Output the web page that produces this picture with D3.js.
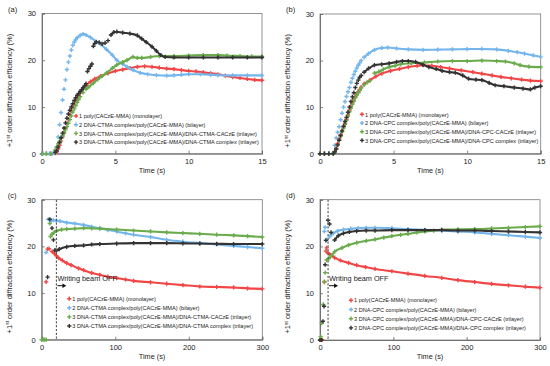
<!DOCTYPE html>
<html>
<head>
<meta charset="utf-8">
<script src="https://cdn.jsdelivr.net/npm/d3@7"></script>
<style>
  body { margin: 0; background: #fff; }
  svg { display: block; font-family: Arial, "Liberation Sans", sans-serif; }
</style>
</head>
<body>
<div class="chart"></div>
<script>
// [time (s), +1st order diffraction efficiency (%)]
var aRed = [[0,0],[0.3,0],[0.6,0],[0.9,0.1],[1.0,0.4],[1.1,1.0],[1.2,1.8],[1.3,2.7],[1.4,3.6],[1.5,4.5],[1.6,5.5],[1.7,6.5],[1.8,7.4],[1.9,8.3],[2.0,9.1],[2.1,9.9],[2.2,10.6],[2.3,11.3],[2.4,11.9],[2.5,12.5],[2.6,13.0],[2.7,13.5],[2.8,13.9],[3.0,14.6],[3.3,15.4],[3.6,16.0],[4.0,16.6],[4.5,17.2],[5,17.7],[5.5,18.0],[6,18.3],[6.5,18.6],[7,18.7],[7.5,18.6],[8,18.4],[8.5,18.2],[9,18.1],[9.5,17.9],[10,17.7],[10.5,17.6],[11,17.4],[11.5,17.2],[12,17.0],[12.5,16.7],[13,16.4],[13.5,16.2],[14,16.0],[14.5,15.8],[15,15.7]];
var aBlue = [[0,0],[0.1,0],[0.3,0],[0.5,0],[0.7,0],[0.9,0.3],[1.0,1.5],[1.1,3.6],[1.2,6.2],[1.3,8.8],[1.4,11.5],[1.5,13.8],[1.6,15.8],[1.7,18.0],[1.8,19.6],[1.9,20.9],[2.0,22.2],[2.1,23.2],[2.2,23.9],[2.3,24.4],[2.4,24.8],[2.6,25.3],[2.8,25.6],[3.0,25.4],[3.3,24.9],[3.7,24.0],[4.0,23.4],[4.4,22.3],[4.8,21.1],[5.1,20.0],[5.5,19.2],[5.8,18.6],[6.2,17.9],[6.7,17.3],[7.2,17.0],[7.8,16.8],[8.5,16.7],[9.0,16.75],[9.5,16.9],[10,17.0],[10.8,17.0],[11.5,16.9],[12,16.8],[13,16.75],[14,16.75],[15,16.75]];
var aGreen = [[0,0],[0.3,0],[0.6,0],[0.9,0.8],[1.0,1.4],[1.1,2.1],[1.2,2.7],[1.3,3.3],[1.4,3.9],[1.5,4.5],[1.6,5.1],[1.7,5.8],[1.8,6.5],[1.9,7.3],[2.0,8.1],[2.1,8.9],[2.2,9.6],[2.3,10.3],[2.4,11.0],[2.5,11.6],[2.6,12.2],[2.8,13.1],[3.0,13.8],[3.2,14.3],[3.5,15.1],[3.8,15.9],[4.1,16.6],[4.4,17.3],[4.8,18.3],[5.1,19.0],[5.5,19.6],[5.8,20.0],[6.2,20.7],[6.5,20.5],[6.8,20.5],[7.4,20.7],[8.0,20.9],[9,20.9],[10,21.0],[11,21.1],[12,21.1],[12.6,21.0],[13.5,20.9],[14.3,20.8],[15,20.8]];
var aBlack = [[0.9,0.3],[1.0,0.6],[1.1,1.4],[1.2,2.4],[1.3,3.4],[1.4,4.4],[1.5,5.5],[1.6,6.6],[1.7,7.6],[1.8,8.5],[1.9,9.3],[2.0,10.0],[2.1,10.7],[2.2,11.4],[2.3,12.0],[2.4,12.5],[2.5,12.9],[2.6,13.3],[2.7,13.7],[2.8,14.1],[2.9,14.5],[3.0,15.0],[3.1,17.6],[3.2,18.2],[3.3,18.7],[3.4,19.2],[3.5,23.0],[3.6,23.6],[3.7,23.9],[3.9,23.8],[4.1,23.5],[4.3,23.7],[4.5,24.2],[4.7,25.4],[4.9,26.0],[5.1,26.1],[5.5,25.9],[6.0,25.7],[6.5,25.3],[6.8,24.6],[7.1,23.9],[7.5,22.9],[7.8,22.0],[8.1,21.1],[8.4,20.7],[9,20.6],[10,20.6],[11,20.6],[12,20.6],[13,20.6],[14,20.6],[15,20.6]];

var bRed = [[0,0],[0.3,0],[0.6,0],[0.9,0],[1.0,0.5],[1.1,1.2],[1.2,2.2],[1.3,3.2],[1.4,4.1],[1.5,4.9],[1.6,5.7],[1.7,6.5],[1.8,7.4],[1.9,8.3],[2.0,9.4],[2.1,10.2],[2.2,10.9],[2.3,11.6],[2.4,12.3],[2.5,12.8],[2.6,13.3],[2.7,13.8],[2.8,14.3],[3.0,15.0],[3.4,15.8],[3.8,16.6],[4.2,17.2],[4.8,17.8],[5.4,18.2],[6.0,18.6],[6.6,18.9],[7.0,19.0],[7.6,18.9],[8.2,18.6],[8.8,18.3],[9.6,17.9],[10.4,17.5],[11,17.2],[11.7,16.8],[12.3,16.5],[13,16.2],[13.7,15.9],[14.3,15.7],[15,15.6]];
var bBlue = [[0,0],[0.3,0],[0.6,0],[0.9,0.2],[1.0,1.8],[1.1,3.4],[1.2,4.6],[1.3,5.8],[1.4,7.3],[1.5,8.7],[1.6,10.0],[1.7,11.2],[1.8,12.3],[1.9,13.3],[2.0,14.2],[2.1,15.3],[2.2,16.2],[2.3,17.0],[2.4,17.7],[2.5,18.4],[2.6,19.0],[2.7,19.5],[2.8,20.0],[3.0,20.7],[3.3,21.5],[3.7,22.3],[4.2,22.7],[4.6,22.8],[5.2,22.6],[6.0,22.4],[7.0,22.3],[8.0,22.35],[9.0,22.4],[10.0,22.45],[11,22.5],[12,22.4],[12.8,22.1],[13.4,21.8],[13.9,21.5],[14.5,21.1],[15,20.8]];
var bGreen = [[0,0],[0.3,0],[0.6,0],[0.9,0],[1.0,0.3],[1.1,1.0],[1.2,1.9],[1.3,2.9],[1.4,3.8],[1.5,4.7],[1.6,5.5],[1.7,6.3],[1.8,7.2],[1.9,8.1],[2.0,9.0],[2.1,9.8],[2.2,10.6],[2.3,11.3],[2.4,12.0],[2.5,12.6],[2.6,13.1],[2.7,13.6],[2.8,14.1],[3.0,14.8],[3.2,15.3],[3.4,15.7],[3.7,17.3],[4.0,17.6],[4.3,18.1],[4.7,18.6],[5.1,18.9],[5.5,19.2],[6.2,19.4],[7.1,19.6],[8.0,19.8],[9,19.9],[10,19.9],[11,20.0],[12,19.9],[12.6,19.8],[13.2,19.4],[13.6,19.0],[14.2,18.7],[15,18.6]];
var bBlack = [[0,0],[0.3,0],[0.6,0],[0.9,0],[1.0,0.4],[1.1,1.0],[1.2,1.9],[1.3,2.9],[1.4,3.9],[1.5,4.9],[1.6,5.9],[1.7,6.9],[1.8,7.8],[1.9,8.9],[2.0,10.0],[2.1,11.2],[2.2,12.2],[2.3,13.1],[2.4,14.2],[2.5,15.1],[2.6,15.8],[2.7,16.4],[2.8,16.8],[3.0,17.5],[3.3,18.3],[3.7,19.0],[4.2,19.2],[4.7,19.4],[5.2,19.7],[5.6,19.9],[6.0,19.9],[6.5,19.7],[7.0,19.1],[7.4,18.6],[7.9,18.2],[8.3,17.8],[8.8,17.5],[9.2,17.4],[9.7,16.8],[10.1,16.1],[10.6,15.9],[11.0,15.8],[11.5,15.2],[11.9,14.7],[12.5,14.5],[13.2,14.2],[13.8,14.0],[14.3,13.8],[14.6,14.2],[15,14.5]];

var cRed = [[6,12.4],[8,19.4],[10,19.5],[14,18.9],[17,18.5],[20,18.0],[23,17.5],[28,17.0],[34,16.4],[40,16.0],[50,15.3],[57,14.9],[68,14.3],[79,13.9],[90,13.5],[102,13.2],[114,12.9],[125,12.6],[148,12.3],[170,12.0],[192,11.7],[215,11.4],[238,11.3],[261,11.2],[280,11.0],[300,10.9]];
var cBlue = [[6,18.7],[9,25.8],[13,25.5],[16,25.6],[20,25.5],[25,25.4],[34,25.1],[45,24.9],[57,24.6],[68,24.2],[79,23.9],[90,23.5],[102,23.2],[114,22.8],[125,22.5],[148,22.0],[170,21.4],[192,21.0],[215,20.7],[238,20.4],[261,20.1],[280,19.85],[300,19.6]];
var cGreen = [[0,0],[2,0],[4,0],[6,0],[11,24.9],[12,22.1],[14,22.6],[17,23.0],[20,23.3],[27,23.6],[34,23.7],[45,23.8],[57,23.9],[68,23.85],[79,23.8],[102,23.6],[125,23.4],[148,23.2],[170,23.0],[192,22.85],[215,22.7],[238,22.5],[261,22.35],[280,22.2],[300,22.0]];
var cBlack = [[8,13.4],[11,25.8],[14,23.9],[16,21.4],[18,19.2],[20,19.1],[24,19.4],[34,19.9],[45,20.1],[57,20.2],[68,20.4],[79,20.5],[102,20.6],[125,20.7],[148,20.7],[170,20.7],[192,20.65],[215,20.6],[238,20.55],[261,20.5],[300,20.5]];

var dRed = [[0,0],[3,0],[6,12.4],[8,19.0],[9,19.7],[11,18.6],[14,18.2],[20,17.6],[28,17.0],[39,16.5],[50,16.0],[62,15.6],[75,15.2],[98,14.7],[120,14.2],[143,13.7],[166,13.3],[188,12.8],[211,12.4],[234,12.0],[257,11.7],[280,11.4],[300,11.2]];
var dBlue = [[6,23.2],[7,24.1],[9,21.4],[13,22.1],[18,22.8],[24,23.3],[32,23.6],[42,23.8],[52,23.9],[63,24.0],[75,24.0],[98,23.9],[120,23.7],[143,23.55],[166,23.4],[188,23.2],[211,23.0],[234,22.7],[257,22.4],[280,22.1],[300,21.8]];
var dGreen = [[0,0],[1,0.7],[2.3,3.6],[4.5,7.6],[6,12.5],[7,14.4],[9,17.1],[12,17.4],[16,18.1],[20,18.9],[30,19.7],[39,20.3],[50,20.8],[63,21.2],[75,21.5],[87,21.9],[98,22.2],[110,22.5],[120,22.7],[132,23.0],[143,23.2],[155,23.4],[166,23.6],[188,23.65],[211,23.7],[234,23.85],[257,24.0],[280,24.15],[300,24.3]];
var dBlack = [[0,0],[2,0],[4,4.0],[5.5,7.2],[7,16.1],[8,21.3],[11,25.6],[13,24.8],[15,23.0],[20,21.4],[25,22.3],[32,22.8],[40,23.1],[50,23.3],[63,23.4],[75,23.4],[98,23.5],[120,23.5],[143,23.5],[166,23.5],[188,23.4],[211,23.4],[234,23.3],[257,23.2],[280,23.1],[300,23.0]];

var yTicks = [0, 10, 20, 30];
var xTicksShort = [0, 5, 10, 15];
var xTicksLong = [0, 100, 200, 300];

var legendCTMA = [
  '1 poly(CACzE-MMA) (monolayer)',
  '2 DNA-CTMA complex/poly(CACzE-MMA) (bilayer)',
  '3 DNA-CTMA complex/poly(CACzE-MMA)/DNA-CTMA-CACzE (trilayer)',
  '3 DNA-CTMA complex/poly(CACzE-MMA)/DNA-CTMA complex (trilayer)'
];
var legendCPC = [
  '1 poly(CACzE-MMA) (monolayer)',
  '2 DNA-CPC complex/poly(CACzE-MMA) (bilayer)',
  '3 DNA-CPC complex/poly(CACzE-MMA)/DNA-CPC-CACzE (trilayer)',
  '3 DNA-CPC complex/poly(CACzE-MMA)/DNA-CPC complex (trilayer)'
];

var colors = ['#f24545', '#74b6ec', '#6aab4c', '#333333'];

var panels = [
  {label: '(a)', left: 42, top: 13.5, width: 220, height: 140.2, xMax: 15, xTicks: xTicksShort,
   series: [aRed, aBlue, aGreen, aBlack], lineFrom: [2.9, 2.3, 3.0, 4.6],
   legend: legendCTMA, legX: 76, legY: 116, legStep: 8.7, legW: 180, beam: null},
  {label: '(b)', left: 320, top: 14, width: 220.7, height: 139.7, xMax: 15, xTicks: xTicksShort,
   series: [bRed, bBlue, bGreen, bBlack], lineFrom: [2.9, 2.9, 3.7, 2.9],
   legend: legendCPC, legX: 362, legY: 114.3, legStep: 8.7, legW: 173, beam: null},
  {label: '(c)', left: 41.7, top: 199.7, width: 220.6, height: 140, xMax: 300, xTicks: xTicksLong,
   series: [cRed, cBlue, cGreen, cBlack], lineFrom: [13, 12, 13, 17],
   legend: legendCTMA, legX: 69.3, legY: 298.7, legStep: 9.1, legW: 181, beam: 20},
  {label: '(d)', left: 320, top: 199.7, width: 220, height: 140.3, xMax: 300, xTicks: xTicksLong,
   series: [dRed, dBlue, dGreen, dBlack], lineFrom: [10, 12, 11, 19],
   legend: legendCPC, legX: 351, legY: 300.3, legStep: 9.2, legW: 172, beam: 11}
];

var svg = d3.select('.chart')
  .append('svg')
    .attr('width', 550)
    .attr('height', 366);

var marker = d3.symbol().type(d3.symbolCross).size(10);

panels.forEach(function(p) {
  var g = svg.append('g')
    .attr('transform', `translate(${p.left}, ${p.top})`);

  var x = d3.scaleLinear().domain([0, p.xMax]).range([0, p.width]);
  var y = d3.scaleLinear().domain([0, 30]).range([p.height, 0]);

  // frame
  g.append('rect')
    .attr('width', p.width)
    .attr('height', p.height)
    .attr('fill', 'none')
    .attr('stroke', '#7a7a7a')
    .attr('stroke-width', 0.8);

  var xAxis = g.append('g')
    .attr('transform', `translate(0, ${p.height})`)
    .call(d3.axisBottom(x).tickValues(p.xTicks).tickSize(-3).tickPadding(5));
  var yAxis = g.append('g')
    .call(d3.axisLeft(y).tickValues(yTicks).tickSize(-3).tickPadding(6));

  [xAxis, yAxis].forEach(function(ax) {
    ax.select('.domain').attr('stroke', '#666').attr('stroke-width', 0.9);
    ax.selectAll('.tick line').attr('stroke', '#666').attr('stroke-width', 0.8);
    ax.selectAll('.tick text')
      .attr('font-family', 'Arial, "Liberation Sans", sans-serif')
      .attr('font-size', 7.5)
      .attr('fill', '#222');
  });

  // series
  p.series.forEach(function(data, i) {
    var line = d3.line()
      .x(d => x(d[0]))
      .y(d => y(d[1]))
      .curve(d3.curveMonotoneX);

    g.append('path')
      .datum(data.filter(d => d[0] >= p.lineFrom[i]))
      .attr('d', line)
      .attr('fill', 'none')
      .attr('stroke', colors[i])
      .attr('stroke-width', 2.1);

    g.selectAll('.m' + i)
      .data(data)
      .enter()
      .append('path')
        .attr('class', 'm' + i)
        .attr('d', marker)
        .attr('fill', colors[i])
        .attr('transform', d => `translate(${x(d[0])}, ${y(d[1])})`);
  });

  // writing beam off marker
  if (p.beam !== null) {
    var bx = x(p.beam);
    g.append('line')
      .attr('x1', bx).attr('x2', bx)
      .attr('y1', 0).attr('y2', p.height)
      .attr('stroke', '#555')
      .attr('stroke-width', 1.1)
      .attr('stroke-dasharray', '2.2,1.6');
    g.append('text')
      .attr('x', bx + 1)
      .attr('y', 81)
      .attr('font-size', 7.3)
      .attr('fill', '#222')
      .text('Writing beam OFF');
    g.append('line')
      .attr('x1', bx + 1).attr('x2', bx + 7)
      .attr('y1', 86).attr('y2', 86)
      .attr('stroke', '#111')
      .attr('stroke-width', 1);
    g.append('path')
      .attr('d', `M${bx + 10},86 L${bx + 6},83.8 L${bx + 6},88.2 Z`)
      .attr('fill', '#111');
  }

  // legend: font scaled so the longest entry spans the same width as in the figure
  var legTexts = [];
  p.legend.forEach(function(txt, i) {
    var ly = p.legY + i * p.legStep - p.top;
    var lx = p.legX - p.left;
    g.append('path')
      .attr('d', marker)
      .attr('fill', colors[i])
      .attr('transform', `translate(${lx}, ${ly})`);
    legTexts.push(g.append('text')
      .attr('x', lx + 3)
      .attr('y', ly + 2.2)
      .attr('font-size', 6.2)
      .attr('fill', '#222')
      .text(txt));
  });
  var longest = d3.max(legTexts, t => t.node().getComputedTextLength());
  var fs = 6.2 * p.legW / longest;
  legTexts.forEach(t => t.attr('font-size', fs));

  // axis titles
  g.append('text')
    .attr('x', p.width / 2)
    .attr('y', p.height + 19)
    .attr('text-anchor', 'middle')
    .attr('font-size', 7.3)
    .attr('fill', '#222')
    .text('Time (s)');

  var yt = g.append('text')
    .attr('transform', `translate(-30, ${p.height / 2 + 7}) rotate(-90)`)
    .attr('text-anchor', 'middle')
    .attr('font-size', 7.5)
    .attr('fill', '#222');
  yt.append('tspan').text('+1');
  yt.append('tspan').attr('font-size', 5).attr('dy', -2.5).text('st');
  yt.append('tspan').attr('dy', 2.5).text(' order diffraction efficiency (%)');

  // panel label
  svg.append('text')
    .attr('x', p.left - 34)
    .attr('y', p.top - 2)
    .attr('font-size', 7.5)
    .attr('fill', '#222')
    .text(p.label);
});
</script>
</body>
</html>
